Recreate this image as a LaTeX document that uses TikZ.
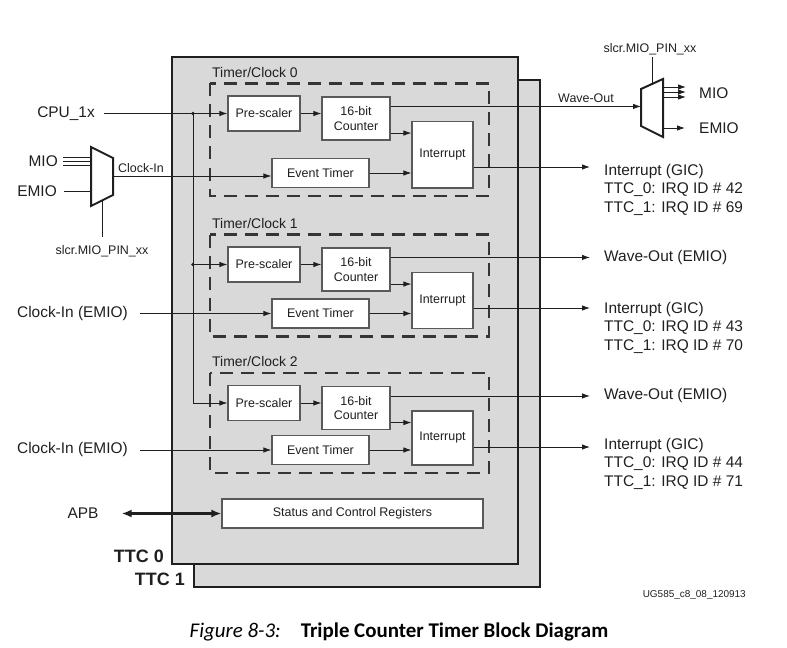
\documentclass[tikz,border=0pt]{standalone}
\usepackage{fontspec}
\setmainfont{Liberation Sans}
\newfontfamily\capfont{Carlito}
\usetikzlibrary{arrows.meta}

\definecolor{ttcfill}{HTML}{D9D9D9}
\definecolor{inkgray}{HTML}{1F1F1F}
\definecolor{edgegray}{HTML}{595959}

\tikzset{
  ttcbox/.style={draw=inkgray,line width=2.6bp,fill=ttcfill},
  grpbox/.style={draw=inkgray!90,line width=2.4bp,dash pattern=on 13bp off 8bp},
  blkbox/.style={draw=edgegray,line width=1.1bp,fill=white,align=center,inner sep=0pt,
    font=\fontsize{12.5}{14.5}\selectfont,text=inkgray},
  muxbox/.style={draw=inkgray,line width=2bp,fill=white,line join=miter},
  sig/.style={draw=inkgray,line width=0.9bp,-{Latex[length=8bp,width=5.5bp]}},
  wire/.style={draw=inkgray,line width=0.9bp},
  biglbl/.style={font=\fontsize{15.5}{18.5}\selectfont,inner sep=0pt,align=left,text=inkgray},
  smllbl/.style={font=\fontsize{12.5}{14.5}\selectfont,inner sep=0pt,text=inkgray},
}

\begin{document}
\begin{tikzpicture}[x=1bp,y=-1bp]
\useasboundingbox (0,0) rectangle (787,648);

% TTC 1 sits behind TTC 0
\draw[ttcbox] (194,80) rectangle (540,587);
\draw[ttcbox] (172,57) rectangle (518,564);
\node[biglbl,font=\fontsize{18}{20}\selectfont\bfseries,anchor=east] (ttc0) at (164,556) {TTC 0};
\node[biglbl,font=\fontsize{18}{20}\selectfont\bfseries,anchor=east] (ttc1) at (185,579) {TTC 1};

\coordinate (rcol) at (604,0);
\coordinate (lcol) at (128,0);

% the three timer/clock blocks
\foreach \n/\p/\e/\o/\g/\ida/\idb in {0/113.5/173/167/170.5/42/69,1/264.5/313.5/308/308.5/43/70,2/403/450/447/444.5/44/71}{
  \pgfmathsetmacro\yi{(\p+\e+23)/2}
  \pgfmathsetmacro\hi{\e-\p+7}
  \draw[grpbox] (210,\p-30) rectangle (489,\e+23);
  \node[biglbl,font=\fontsize{14}{16}\selectfont,anchor=west] (tc\n) at (212,\p-41) {Timer/Clock \n};
  \node[blkbox,minimum width=72bp,minimum height=35bp] (pre\n) at (264,\p) {Pre-scaler};
  \node[blkbox,minimum width=68bp,minimum height=43bp] (cnt\n) at (356,\p+5) {16-bit\\Counter};
  \node[blkbox,minimum width=61bp,minimum height=\hi bp] (int\n) at (442.5,\yi) {Interrupt};
  \node[blkbox,minimum width=97bp,minimum height=29bp] (evt\n) at (320.5,\e) {Event Timer};
  \node[biglbl,anchor=north west] (irq\n) at (604,\g-6.5) {Interrupt (GIC)\\TTC\_0: IRQ ID \# \ida\\TTC\_1: IRQ ID \# \idb};
  \coordinate (c2i\n) at ([yshift=7.5bp]cnt\n.south east);
  \coordinate (wv\n) at ([yshift=-10bp]cnt\n.north east);
  \path (int\n.east) ++(0,\o-\yi) coordinate (io\n);
  \draw[sig] (pre\n.east) -- (pre\n.east -| cnt\n.west);
  \draw[sig] (c2i\n) -- (c2i\n -| int\n.west);
  \draw[sig] (evt\n.east) -- (evt\n.east -| int\n.west);
  \draw[sig,shorten >=14bp] (io\n) -- (io\n -| irq\n.west);
}

% timer 1 and 2 go straight to EMIO
\foreach \n in {1,2}{
  \node[biglbl,anchor=west] (wo\n) at (wv\n -| rcol) {Wave-Out (EMIO)};
  \draw[sig,shorten >=14bp] (wv\n) -- (wo\n.west);
  \node[biglbl,anchor=east] (clk\n) at (lcol |- evt\n) {Clock-In (EMIO)};
  \draw[sig,shorten <=12bp] (clk\n.east) -- (evt\n.west);
}

% CPU_1x clock fan-out
\node[biglbl,anchor=east] (cpu) at (95,113.5) {CPU\_1x};
\coordinate (tap) at (193,113.5);
\draw[sig,shorten <=9bp] (cpu.east) -- (pre0.west);
\draw[sig] (tap) |- (pre2.west);
\draw[sig] (tap |- pre1.west) -- (pre1.west);
\fill[inkgray] (tap) circle (1.8bp) (tap |- pre1.west) circle (1.8bp);

% input mux for timer 0
\draw[muxbox] (91,147) -- (113,158) -- (113,195) -- (91,206) -- cycle;
\coordinate (mlin) at (91,161);
\coordinate (mlout) at (113,176);
\coordinate (mlsel) at (102,200.5);
\node[biglbl,anchor=east] (miol) at (58,161) {MIO};
\node[biglbl,anchor=east] (emiol) at (57,191) {EMIO};
\foreach \d in {-4,0,4}
  \draw[wire,shorten <=5bp] ([yshift=\d bp]miol.east) -- ([yshift=\d bp]mlin);
\draw[wire,shorten <=7bp] (emiol.east) -- (emiol.east -| mlin);
\node[smllbl] (slcl) at (102,251) {slcr.MIO\_PIN\_xx};
\draw[wire,shorten >=8bp] (mlsel) -- (slcl.north);
\draw[sig] (mlout) -- (mlout -| evt0.west);
\node[smllbl,anchor=south west] (clkl) at (118,173) {Clock-In};

% output mux for timer 0
\draw[muxbox] (641,89) -- (663,79) -- (663,137) -- (641,126) -- cycle;
\coordinate (mrin) at (641,107);
\coordinate (mrsel) at (652,84);
\coordinate (mrout) at (663,92);
\coordinate (mremio) at (663,128);
\draw[sig] (wv0) -- (wv0 -| mrin);
\node[smllbl] (wvl) at (586,98) {Wave-Out};
\node[smllbl] (slcr) at (650,49) {slcr.MIO\_PIN\_xx};
\draw[wire,shorten >=2.5bp] (mrsel) -- (mrsel |- slcr.south);
\node[biglbl,anchor=west] (mior) at (699,93) {MIO};
\node[biglbl,anchor=west] (emior) at (699,128) {EMIO};
\foreach \d/\k in {-5/a,0/b,5/c}{
  \coordinate (mro\k) at ([yshift=\d bp]mrout);
  \draw[sig,shorten >=13bp] (mro\k) -- (mro\k -| mior.west);
}
\draw[sig,shorten >=14bp] (mremio) -- (mremio -| emior.west);

% register interface
\node[blkbox,minimum width=261bp,minimum height=29bp] (scr) at (352.5,513.5) {Status and Control Registers};
\node[biglbl] (apb) at (83,513.5) {APB};
\draw[draw=inkgray,line width=2.8bp,{Latex[length=10bp,width=8bp]}-{Latex[length=10bp,width=8bp]},shorten <=23bp] (apb.east) -- (apb.east -| scr.west);

\node[font=\fontsize{10}{12}\selectfont,anchor=east,inner sep=0pt,text=inkgray] (ug) at (746,595) {UG585\_c8\_08\_120913};
\node[font=\capfont\fontsize{21}{24}\selectfont,inner sep=0pt] (cap) at (399,632) {\textit{Figure 8-3:}\hspace{20bp}\textbf{Triple Counter Timer Block Diagram}};
\end{tikzpicture}
\end{document}
